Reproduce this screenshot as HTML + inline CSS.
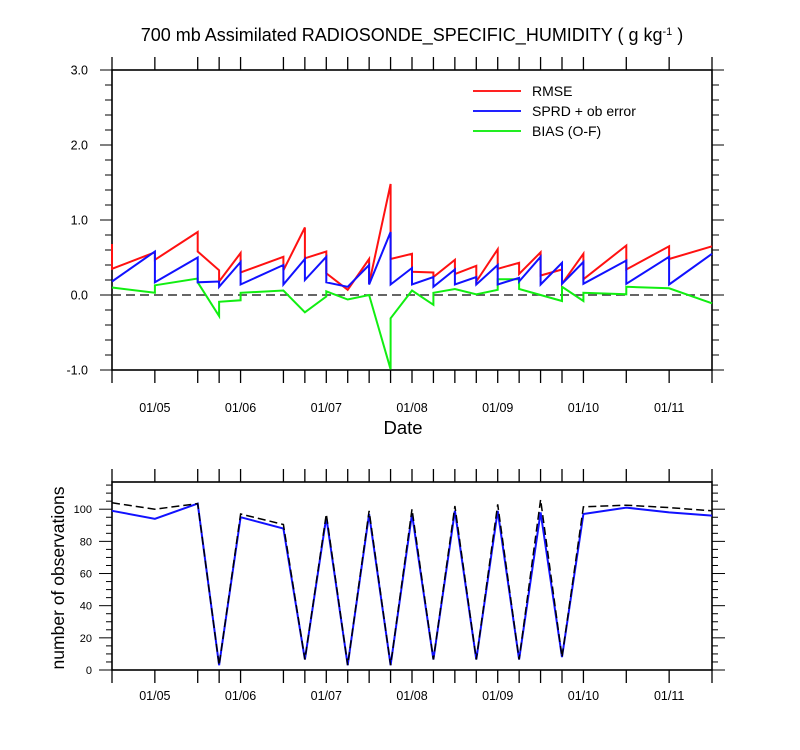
<!DOCTYPE html>
<html><head><meta charset="utf-8"><style>
body{margin:0;background:#fff}
svg{display:block;font-family:"Liberation Sans",sans-serif}
</style></head><body>
<svg id="c" width="800" height="750" viewBox="0 0 800 750">
<text x="412" y="41" text-anchor="middle" font-size="18">700 mb Assimilated RADIOSONDE_SPECIFIC_HUMIDITY ( g kg<tspan dy="-6" font-size="11">-1</tspan><tspan dy="6"> )</tspan></text>
<g id="topG"></g>
<g id="botG"></g>
<g>
<line x1="473" y1="91" x2="521" y2="91" stroke="#f22" stroke-width="2"/>
<text x="532" y="96" font-size="14">RMSE</text>
<line x1="473" y1="111" x2="521" y2="111" stroke="#22f" stroke-width="2"/>
<text x="532" y="116" font-size="14">SPRD + ob error</text>
<line x1="473" y1="131" x2="521" y2="131" stroke="#2e2" stroke-width="2"/>
<text x="532" y="136" font-size="14">BIAS (O-F)</text>
</g>
<text x="403" y="434" text-anchor="middle" font-size="18.5">Date</text>
<text transform="translate(64,578) rotate(-90)" text-anchor="middle" font-size="17.5">number of observations</text>
</svg>
<script>
const times=[4.5,5,5.5,5.75,6,6.5,6.75,7,7.25,7.5,7.75,8,8.25,8.5,8.75,9,9.25,9.5,9.75,10,10.5,11,11.5];
const rmsePrior=[0.68,0.57,0.84,0.33,0.56,0.51,0.90,0.58,0.07,0.48,1.48,0.55,0.30,0.47,0.39,0.61,0.43,0.57,0.34,0.55,0.66,0.65,0.65];
const rmsePost=[0.35,0.47,0.58,0.18,0.30,0.33,0.49,0.29,0.07,0.15,0.48,0.31,0.24,0.28,0.18,0.35,0.28,0.26,0.15,0.21,0.34,0.48,0.65];
const sprdPrior=[0.18,0.58,0.50,0.18,0.44,0.40,0.48,0.51,0.11,0.40,0.84,0.36,0.24,0.34,0.24,0.40,0.23,0.51,0.43,0.44,0.46,0.51,0.55];
const sprdPost=[0.18,0.17,0.17,0.11,0.14,0.14,0.20,0.17,0.11,0.14,0.14,0.14,0.11,0.14,0.14,0.14,0.18,0.14,0.15,0.15,0.15,0.14,0.55];
const biasPrior=[0.10,0.03,0.22,-0.28,-0.07,0.06,-0.23,-0.02,-0.06,0.00,-0.99,0.06,-0.13,0.08,0.01,0.07,0.21,0.00,-0.08,-0.08,0.01,0.09,-0.11];
const biasPost=[0.10,0.13,0.17,-0.09,0.03,0.06,-0.23,0.05,-0.06,0.00,-0.31,0.06,0.03,0.08,0.01,0.21,0.08,0.00,0.11,0.03,0.11,0.09,-0.11];
const obsUsed=[99,94,103.5,3,95,88,6.5,95,3,97,3,97,6.5,99,6.5,99,6.5,98,8,97,101,98,96];
const obsTotal=[104,100,103.5,3,97,90.5,6.5,97,3,99,3,100,6.5,102,6.5,103,6.5,106,8,101.5,102.5,101,99];
const topTicks=["3.0","2.0","1.0","0.0","-1.0"];
const topTickVals=[3,2,1,0,-1];
const botTickVals=[0,20,40,60,80,100];
const dateLabels=["01/05","01/06","01/07","01/08","01/09","01/10","01/11"];
const dateVals=[5,6,7,8,9,10,11];

const NS="http://www.w3.org/2000/svg";
const X0=112,X1=712;
const xs=d=>X0+(d-4.5)/7*(X1-X0);
const yT=v=>295-v*75;
const yB=v=>670-v*1.608;
function mk(p,tag,a){const e=document.createElementNS(NS,tag);for(const k in a)e.setAttribute(k,a[k]);p.appendChild(e);return e;}
const topG=document.getElementById('topG'),botG=document.getElementById('botG');

function frame(g,y0,y1,labOff){
  const r=mk(g,'rect',{x:X0,y:y0,width:X1-X0,height:y1-y0,fill:'none',stroke:'#000','stroke-width':1.6});
  
  
  times.forEach(t=>{
    const l=mk(g,'line',{x1:xs(t),x2:xs(t),y1:y1,y2:y1+13,stroke:'#000','stroke-width':1.3});
    
    
    const l2=mk(g,'line',{x1:xs(t),x2:xs(t),y1:y0,y2:y0-13,stroke:'#000','stroke-width':1.3});
    
    
  });
  dateVals.forEach((d,i)=>{
    const t=mk(g,'text',{x:xs(d),y:y1+labOff,'text-anchor':'middle','font-size':12.5});
    t.textContent=dateLabels[i];
    
    
  });
}
function path(g,pts,attrs,name){
  const p=mk(g,'path',Object.assign({d:'M'+pts.map(p=>p[0].toFixed(1)+','+p[1].toFixed(1)).join('L'),fill:'none'},attrs));
  
  
}
function saw(pr,po){const a=[];times.forEach((t,i)=>{a.push([xs(t),yT(pr[i])]);a.push([xs(t),yT(po[i])]);});return a;}

frame(topG,70,370,42);
for(let v=-1;v<=3.001;v+=0.2){
  const maj=Math.abs(v-Math.round(v))<1e-6;
  [[X0,X0-(maj?12:7)],[X1,X1+(maj?12:7)]].forEach(([a,b])=>{
    const l=mk(topG,'line',{x1:a,x2:b,y1:yT(v),y2:yT(v),stroke:'#000','stroke-width':1});
    
    
  });
}
topTickVals.forEach((v,i)=>{
  const t=mk(topG,'text',{x:88,y:yT(v)+4.5,'text-anchor':'end','font-size':12.5});
  t.textContent=topTicks[i];
  
  
});
path(topG,[[X0,yT(0)],[X1,yT(0)]],{stroke:'#333','stroke-width':1.6,'stroke-dasharray':'9,5'},'zero-line');
path(topG,saw(biasPrior,biasPost),{stroke:'#1e1','stroke-width':2},'bias-line');
path(topG,saw(rmsePrior,rmsePost),{stroke:'#f11','stroke-width':2},'rmse-line');
path(topG,saw(sprdPrior,sprdPost),{stroke:'#11f','stroke-width':2},'sprd-line');

frame(botG,482,670,30);
for(let v=0;v<=115;v+=5){
  const maj=v%20===0;
  [[X0,X0-(maj?13:6)],[X1,X1+(maj?13:6)]].forEach(([a,b])=>{
    const l=mk(botG,'line',{x1:a,x2:b,y1:yB(v),y2:yB(v),stroke:'#000','stroke-width':1});
    
    
  });
}
botTickVals.forEach(v=>{
  const t=mk(botG,'text',{x:92,y:yB(v)+4,'text-anchor':'end','font-size':11});
  t.textContent=v;
  
  
});
path(botG,times.map((t,i)=>[xs(t),yB(obsUsed[i])]),{stroke:'#11f','stroke-width':2},'obs-used-line');
path(botG,times.map((t,i)=>[xs(t),yB(obsTotal[i])]),{stroke:'#000','stroke-width':1.5,'stroke-dasharray':'8,4'},'obs-total-line');
</script>
</body></html>
